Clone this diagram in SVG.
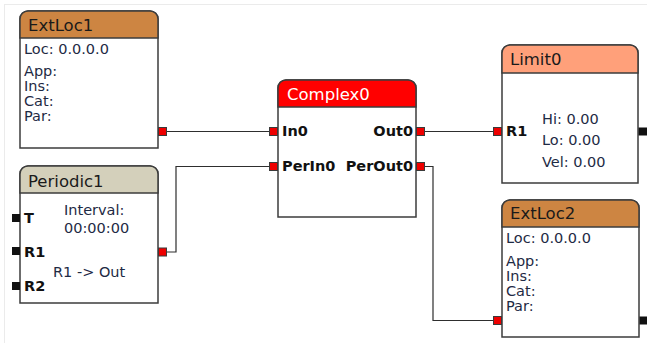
<svg xmlns="http://www.w3.org/2000/svg" width="647" height="343" viewBox="0 0 647 343">
  <style>
    .frame { fill: #ffffff; stroke: #ebebeb; stroke-width: 1; }
    .box { fill: #ffffff; stroke: #3c3c3c; stroke-width: 1.5; }
    .hdr { stroke: #3c3c3c; stroke-width: 1.5; }
    .title { font-family: "DejaVu Sans", Verdana, sans-serif; font-size: 16.5px; fill: #1a1a1a; }
    .title-w { font-family: "DejaVu Sans", Verdana, sans-serif; font-size: 16.5px; fill: #ffffff; }
    .txt { font-family: "DejaVu Sans", Verdana, sans-serif; font-size: 14.5px; fill: #1e2a44; }
    .pl { font-family: "DejaVu Sans", Verdana, sans-serif; font-size: 14.5px; font-weight: bold; fill: #111111; }
    .pin-r { fill: #ee0000; stroke: #3a3a3a; stroke-width: 1; }
    .pin-k { fill: #111111; stroke: #111111; stroke-width: 1; }
    .wire { fill: none; stroke: #2e2e2e; stroke-width: 1.2; }
  </style>

  <rect class="frame" x="4.5" y="4.5" width="660" height="360"/>

  <!-- wires -->
  <g id="connectors">
    <path class="wire" d="M166,131.5 H269"/>
    <path class="wire" d="M166,252 H176 V166.5 H269"/>
    <path class="wire" d="M425,131.5 H493"/>
    <path class="wire" d="M425,166.5 H433 V320.5 H493"/>
  </g>

  <!-- ExtLoc1 -->
  <g id="ExtLoc1">
    <path class="box" d="M20,148 V19 A8,8 0 0 1 28,11 H150 A8,8 0 0 1 158,19 V148 Z"/>
    <path class="hdr" fill="#cd8542" d="M20,38 V19 A8,8 0 0 1 28,11 H150 A8,8 0 0 1 158,19 V38 Z"/>
    <text class="title" x="28" y="31">ExtLoc1</text>
    <text class="txt" x="24" y="54">Loc: 0.0.0.0</text>
    <text class="txt" x="24" y="76">App:</text>
    <text class="txt" x="24" y="91">Ins:</text>
    <text class="txt" x="24" y="106">Cat:</text>
    <text class="txt" x="24" y="121">Par:</text>
    <rect class="pin-r" x="158.5" y="127.5" width="8" height="8"/>
  </g>

  <!-- Periodic1 -->
  <g id="Periodic1">
    <path class="box" d="M20,303 V174 A8,8 0 0 1 28,166 H150 A8,8 0 0 1 158,174 V303 Z"/>
    <path class="hdr" fill="#d4d0bb" d="M20,193 V174 A8,8 0 0 1 28,166 H150 A8,8 0 0 1 158,174 V193 Z"/>
    <text class="title" x="28" y="187">Periodic1</text>
    <text class="txt" x="64" y="215">Interval:</text>
    <text class="txt" x="64" y="233">00:00:00</text>
    <text class="txt" x="53" y="277">R1 -&gt; Out</text>
    <rect class="pin-k" x="12.5" y="214.5" width="7" height="7"/>
    <rect class="pin-k" x="12.5" y="247.5" width="7" height="7"/>
    <rect class="pin-k" x="12.5" y="282.5" width="7" height="7"/>
    <text class="pl" x="24" y="223">T</text>
    <text class="pl" x="24" y="257">R1</text>
    <text class="pl" x="24" y="291">R2</text>
    <rect class="pin-r" x="158.5" y="248" width="8" height="8"/>
  </g>

  <!-- Complex0 -->
  <g id="Complex0">
    <path class="box" d="M278,217 V88 A8,8 0 0 1 286,80 H408 A8,8 0 0 1 416,88 V217 Z"/>
    <path class="hdr" fill="#ff0000" d="M278,107 V88 A8,8 0 0 1 286,80 H408 A8,8 0 0 1 416,88 V107 Z"/>
    <text class="title-w" x="287" y="100">Complex0</text>
    <rect class="pin-r" x="269.5" y="127.5" width="8" height="8"/>
    <rect class="pin-r" x="269.5" y="162.5" width="8" height="8"/>
    <rect class="pin-r" x="416.5" y="127.5" width="8" height="8"/>
    <rect class="pin-r" x="416.5" y="162.5" width="8" height="8"/>
    <text class="pl" x="282" y="136">In0</text>
    <text class="pl" x="282" y="171">PerIn0</text>
    <text class="pl" x="413" y="136" text-anchor="end">Out0</text>
    <text class="pl" x="413" y="171" text-anchor="end">PerOut0</text>
  </g>

  <!-- Limit0 -->
  <g id="Limit0">
    <path class="box" d="M502,183 V53 A8,8 0 0 1 510,45 H630 A8,8 0 0 1 638,53 V183 Z"/>
    <path class="hdr" fill="#ffa07a" d="M502,73 V53 A8,8 0 0 1 510,45 H630 A8,8 0 0 1 638,53 V73 Z"/>
    <text class="title" x="510" y="65">Limit0</text>
    <text class="txt" x="542" y="124">Hi: 0.00</text>
    <text class="txt" x="542" y="145">Lo: 0.00</text>
    <text class="txt" x="542" y="167">Vel: 0.00</text>
    <rect class="pin-r" x="493.5" y="127.5" width="8" height="8"/>
    <text class="pl" x="506" y="136">R1</text>
    <rect class="pin-k" x="639" y="128" width="8" height="7"/>
  </g>

  <!-- ExtLoc2 -->
  <g id="ExtLoc2">
    <path class="box" d="M502,337 V208 A8,8 0 0 1 510,200 H631 A8,8 0 0 1 639,208 V337 Z"/>
    <path class="hdr" fill="#cd8542" d="M502,227 V208 A8,8 0 0 1 510,200 H631 A8,8 0 0 1 639,208 V227 Z"/>
    <text class="title" x="510" y="219">ExtLoc2</text>
    <text class="txt" x="506" y="243">Loc: 0.0.0.0</text>
    <text class="txt" x="506" y="266">App:</text>
    <text class="txt" x="506" y="281">Ins:</text>
    <text class="txt" x="506" y="296">Cat:</text>
    <text class="txt" x="506" y="311">Par:</text>
    <rect class="pin-r" x="493.5" y="316.5" width="8" height="8"/>
    <rect class="pin-k" x="640" y="317" width="7" height="7"/>
  </g>
</svg>
